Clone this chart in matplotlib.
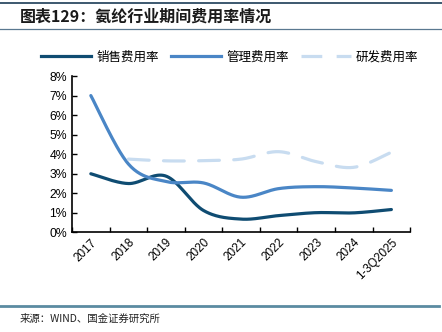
import matplotlib
matplotlib.use("Agg")
import matplotlib.pyplot as plt
from matplotlib.lines import Line2D
from matplotlib.ticker import FuncFormatter
import numpy as np

plt.rcParams['font.family'] = ['Liberation Sans', 'Noto Sans CJK SC']

years = ['2017', '2018', '2019', '2020', '2021', '2022', '2023', '2024', '1-3Q2025']
sales_rate = [3.0, 2.5, 2.88, 1.12, 0.68, 0.86, 1.01, 1.0, 1.17]
admin_rate = [7.0, 3.5, 2.6, 2.53, 1.8, 2.24, 2.34, 2.27, 2.15]
rd_rate = [None, 3.75, 3.66, 3.67, 3.75, 4.13, 3.62, 3.33, 4.1]
series_names = ['销售费用率', '管理费用率', '研发费用率']

c_sales = '#0f4c72'
c_admin = '#4a86c6'
c_rd = '#c8dcf0'


def smooth(xs, ys, n=40):
    # catmull-rom style curve through the points (like office "smoothed line")
    xs = np.asarray(xs, float)
    ys = np.asarray(ys, float)
    px, py = [], []
    for i in range(len(xs) - 1):
        i0 = max(i - 1, 0)
        i3 = min(i + 2, len(xs) - 1)
        p0 = np.array([xs[i0], ys[i0]])
        p1 = np.array([xs[i], ys[i]])
        p2 = np.array([xs[i + 1], ys[i + 1]])
        p3 = np.array([xs[i3], ys[i3]])
        c1 = p1 + (p2 - p0) / 6
        c2 = p2 - (p3 - p1) / 6
        t = np.linspace(0, 1, n)[:, None]
        pts = ((1 - t) ** 3) * p1 + 3 * ((1 - t) ** 2) * t * c1 + 3 * (1 - t) * t ** 2 * c2 + t ** 3 * p2
        px.extend(pts[:, 0])
        py.extend(pts[:, 1])
    return np.array(px), np.array(py)


fig = plt.figure(figsize=(4.42, 3.32), dpi=100)
ax = fig.add_axes([0.163, 0.300, 0.765, 0.471])

x = np.arange(len(years))
sx, sy = smooth(x, sales_rate)
ax.plot(sx, sy, color=c_sales, lw=2.3, solid_capstyle='round')
ax_, ay_ = smooth(x, admin_rate)
ax.plot(ax_, ay_, color=c_admin, lw=2.3, solid_capstyle='round')
rx = [i for i, v in enumerate(rd_rate) if v is not None]
ry = [v for v in rd_rate if v is not None]
dx, dy = smooth(rx, ry)
ax.plot(dx, dy, color=c_rd, lw=2.3, dashes=(6.5, 4.5), dash_capstyle='round')

ax.set_xlim(-0.5, len(years) - 0.5)
ax.set_ylim(0, 8)
ax.set_yticks(range(0, 9))
ax.yaxis.set_major_formatter(FuncFormatter(lambda v, p: f'{v:.0f}%'))
ax.set_xticks(np.arange(len(years) + 1) - 0.5)
ax.set_xticklabels([])
ax.set_xticks(x, years, minor=True)
ax.tick_params(axis='x', which='minor', length=0, labelsize=8.5, rotation=45, pad=3)
for lab in ax.get_xticklabels(minor=True):
    lab.set_ha('right')
    lab.set_rotation_mode('anchor')
ax.tick_params(axis='both', which='major', direction='in', length=3.5, width=1, labelsize=8.8)
for s in ['top', 'right']:
    ax.spines[s].set_visible(False)
for s in ['left', 'bottom']:
    ax.spines[s].set_linewidth(1.2)

handles = [
    Line2D([], [], color=c_sales, lw=2.3),
    Line2D([], [], color=c_admin, lw=2.3),
    Line2D([], [], color=c_rd, lw=2.3, dashes=(6.5, 4.5)),
]
fig.legend(handles, series_names, loc='center', bbox_to_anchor=(0.52, 0.828), ncol=3,
           frameon=False, handlelength=4.0, columnspacing=1.0, handletextpad=0.4,
           prop={'family': ['Noto Sans CJK SC'], 'size': 9})

# header / footer rules and text
fig.add_artist(Line2D([0, 1], [1 - 3 / 332] * 2, color='#2d4b63', lw=1.3))
fig.add_artist(Line2D([0, 1], [1 - 29 / 332] * 2, color='#5a7890', lw=0.9))
fig.add_artist(Line2D([0, 0.993], [1 - 306 / 332] * 2, color='#5b8ba1', lw=2))
fig.text(20 / 442, 1 - 17 / 332, '图表129：氨纶行业期间费用率情况', fontsize=11.5, fontweight='bold',
         fontstyle='italic', va='center', ha='left', color='#1a1a1a', family=['Noto Sans CJK SC'])
fig.text(20 / 442, 1 - 319 / 332, '来源：WIND、国金证券研究所', fontsize=7.5,
         va='center', ha='left', color='#222222', family=['Noto Sans CJK SC'])

fig.savefig('out.png', dpi=100)
